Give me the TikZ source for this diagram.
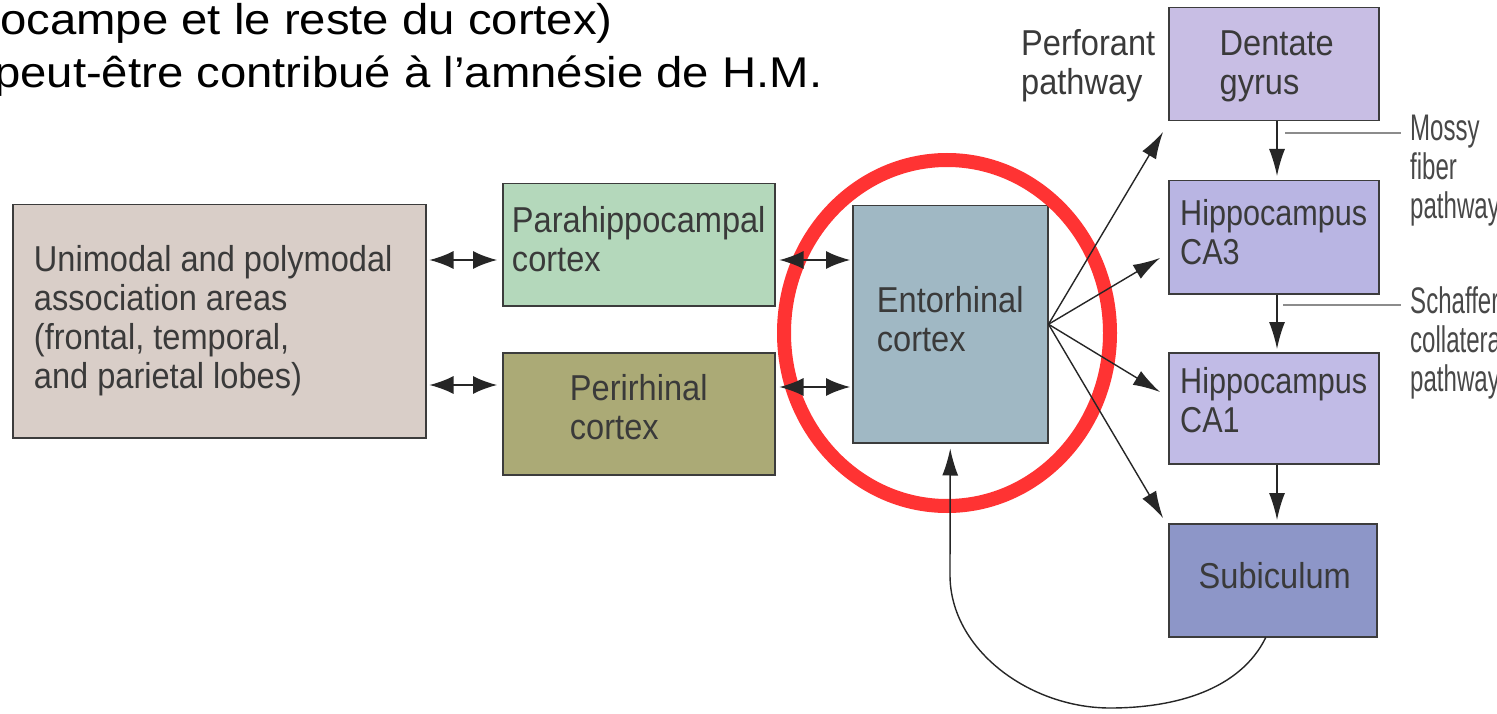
\documentclass[tikz,border=0pt]{standalone}
\usepackage{fontspec}
\setmainfont{Liberation Sans}
\newfontfamily\topfont[FakeStretch=1.1]{Liberation Sans}
\newfontfamily\dfont[FakeStretch=0.905]{Liberation Sans}
\newfontfamily\dnfont[FakeStretch=0.85]{Liberation Sans}
\newfontfamily\sidefont[FakeStretch=0.65]{Liberation Sans}
\usetikzlibrary{arrows.meta,calc}
\definecolor{uniC}{HTML}{D9CEC8}
\definecolor{paraC}{HTML}{B4D8BB}
\definecolor{periC}{HTML}{ABAA76}
\definecolor{entC}{HTML}{A0B8C4}
\definecolor{dgC}{HTML}{C8BEE4}
\definecolor{caThreeC}{HTML}{B9B5E3}
\definecolor{caOneC}{HTML}{C1BBE6}
\definecolor{subC}{HTML}{8D96C8}
\definecolor{edgeC}{HTML}{3C3C3C}
\definecolor{txtC}{HTML}{3A3A3A}
\definecolor{sideC}{HTML}{484848}
\definecolor{redC}{HTML}{FF3333}
\definecolor{greyL}{HTML}{8C8C8C}
\definecolor{arrC}{HTML}{262626}
\begin{document}
\begin{tikzpicture}[x=1pt,y=-1pt,
  box/.style={draw=edgeC, line width=1.5pt, inner sep=0pt, anchor=north west},
  btext/.style={font=\dfont\fontsize{36}{39}\selectfont, text=txtC, align=left, inner sep=0pt},
  bntext/.style={font=\dnfont\fontsize{36}{39}\selectfont, text=txtC, align=left, inner sep=0pt},
  side/.style={font=\sidefont\fontsize{37}{39}\selectfont, text=sideC, align=left, inner sep=0pt, anchor=north west},
  toptext/.style={font=\topfont\fontsize{43}{50}\selectfont, text=black, inner sep=0pt, anchor=base west},
  arr/.style={draw=arrC, line width=1.4pt, -{Latex[length=27pt,width=16pt]}},
  dbl/.style={draw=arrC, line width=1.5pt, {Latex[length=24pt,width=18pt]}-{Latex[length=24pt,width=18pt]}},
  greyline/.style={draw=greyL, line width=2.5pt}
]
\useasboundingbox (0,0) rectangle (1497,714);
\clip (0,0) rectangle (1497,714);
\fill[white] (0,0) rectangle (1497,714);

% top text
\node[toptext] (t1) at (0,35) {ocampe et le reste du cortex)};
\node[toptext] (t2) at (-6,88) {peut-être contribué à l’amnésie de H.M.};

% boxes
\node[box, fill=uniC, minimum width=413pt, minimum height=233pt] (uni) at (12,204) {};
\node[box, fill=paraC, minimum width=272pt, minimum height=122pt] (para) at (502,183) {};
\node[box, fill=periC, minimum width=272pt, minimum height=122pt] (peri) at (502,352) {};
\node[box, fill=entC, minimum width=195pt, minimum height=237pt] (ent) at (852,205) {};
\node[box, fill=dgC, minimum width=210pt, minimum height=113pt] (dg) at (1168,7) {};
\node[box, fill=caThreeC, minimum width=210pt, minimum height=113pt] (ca3) at (1168,180) {};
\node[box, fill=caOneC, minimum width=210pt, minimum height=111pt] (ca1) at (1168,352) {};
\node[box, fill=subC, minimum width=208pt, minimum height=113pt] (sub) at (1168,523) {};

% box texts
\node[btext] (uniT) at ([xshift=-6pt,yshift=1pt]uni.center) {Unimodal and polymodal\\association areas\\(frontal, temporal,\\and parietal lobes)};
\node[btext] (paraT) at ([yshift=5.5pt]para.center) {Parahippocampal\\cortex};
\node[btext] (periT) at ([yshift=6.5pt]peri.center) {Perirhinal\\cortex};
\node[btext] (entT) at ([yshift=5pt]ent.center) {Entorhinal\\cortex};
\node[btext] (dgT) at ([xshift=3pt,yshift=-2pt]dg.center) {Dentate\\gyrus};
\node[bntext] (ca3T) at ([xshift=0pt,yshift=5pt]ca3.center) {Hippocampus\\CA3};
\node[bntext] (ca1T) at ([xshift=0pt,yshift=8pt]ca1.center) {Hippocampus\\CA1};
\node[btext] (subT) at ([xshift=2pt,yshift=4.5pt]sub.center) {Subiculum};

% side labels
\node[btext, anchor=north west] (perf) at (1021,29) {Perforant\\pathway};
\node[side] (mossy) at (1410,114.5) {Mossy\\fiber\\pathway};
\node[side] (schaf) at (1410,286) {Schaffer\\collateral\\pathway};

\coordinate (m1) at (1285,133);
\coordinate (s1) at (1283,305);
\draw[greyline, shorten >=9pt] (m1) -- (m1 -| mossy.west);
\draw[greyline, shorten >=9pt] (s1) -- (s1 -| schaf.west);

% red circle
\draw[redC, line width=14pt] (947,333) ellipse [x radius=163, y radius=173];

% double arrows
\coordinate (a1) at (0,260);
\coordinate (a2) at (0,385);
\coordinate (a3) at (0,387);
\draw[dbl, shorten <=3pt, shorten >=5pt] (uni.east |- a1) -- (para.west |- a1);
\draw[dbl, shorten <=4pt, shorten >=2pt] (para.east |- a1) -- (ent.west |- a1);
\draw[dbl, shorten <=3pt, shorten >=5pt] (uni.east |- a2) -- (peri.west |- a2);
\draw[dbl, shorten <=4pt, shorten >=2pt] (peri.east |- a3) -- (ent.west |- a3);

% entorhinal outputs
\coordinate (pDG) at (1163,132);
\coordinate (pCA3) at (1160,258);
\coordinate (pCA1) at (1160,392);
\coordinate (pSUB) at (1163,518);
\draw[arr] (ent.east) -- (pDG);
\draw[arr] (ent.east) -- (pCA3);
\draw[arr] (ent.east) -- (pCA1);
\draw[arr] (ent.east) -- (pSUB);

% vertical chain
\coordinate (vx) at (1277,0);
\draw[arr, shorten >=4pt] (dg.south -| vx) -- (ca3.north -| vx);
\draw[arr, shorten >=3pt] (ca3.south -| vx) -- (ca1.north -| vx);
\draw[arr, shorten >=3pt] (ca1.south -| vx) -- (sub.north -| vx);

% return loop
\draw[arr, shorten >=5pt] ([xshift=-7pt]sub.south) .. controls (1240,690) and (1175,708) .. (1110,708) .. controls (1030,708) and (950,650) .. (950,575) -- (ent.south);
\end{tikzpicture}
\end{document}
